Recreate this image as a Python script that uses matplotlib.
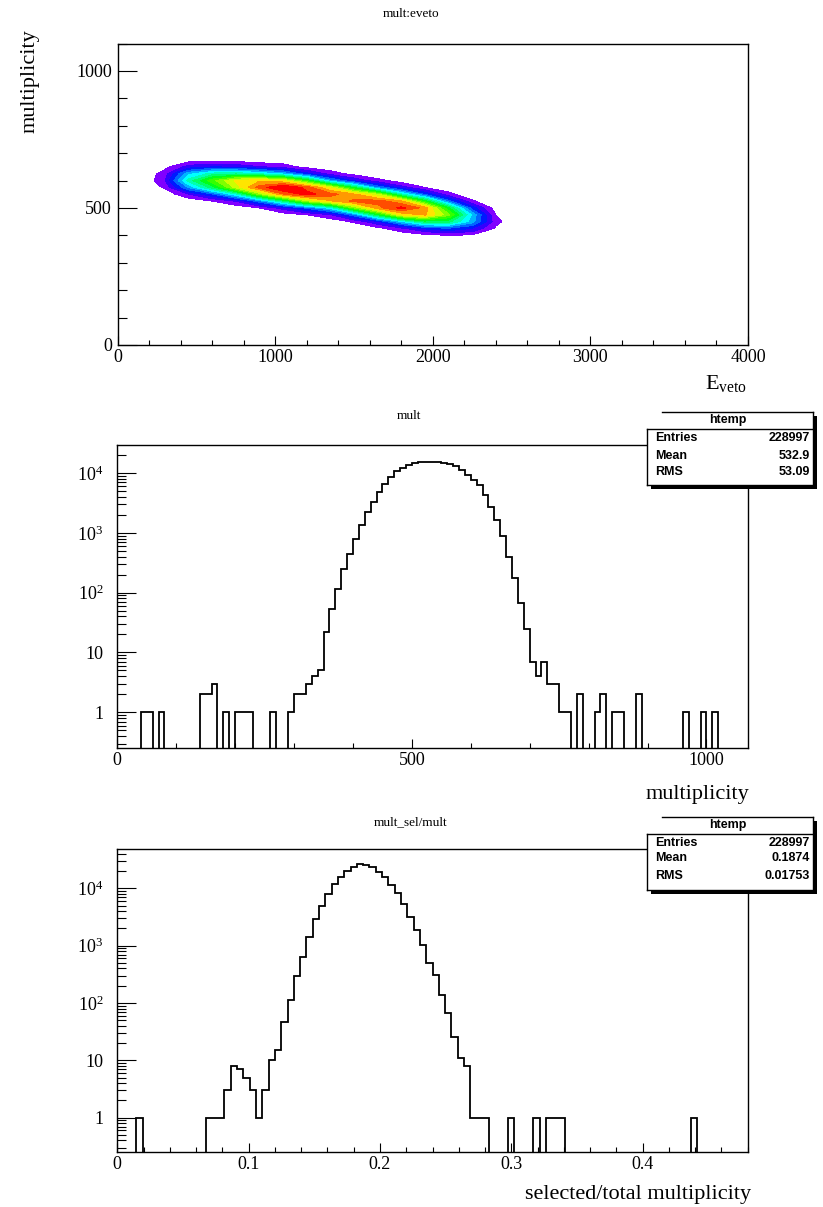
import numpy as np
import matplotlib
matplotlib.use("Agg")
import matplotlib.pyplot as plt
from matplotlib.colors import hsv_to_rgb
from matplotlib.ticker import FixedLocator, MultipleLocator, NullFormatter, FixedFormatter, LogLocator
from matplotlib.patches import Rectangle

plt.rcParams['font.family'] = ['Liberation Serif', 'DejaVu Serif']
plt.rcParams['mathtext.fontset'] = 'custom'
plt.rcParams['mathtext.rm'] = 'Liberation Serif'
plt.rcParams['mathtext.it'] = 'Liberation Serif:italic'

# ---------------- data: panel 1, 2D histogram mult vs E_veto ----------------
eveto_centers = [150, 300, 450, 600, 750, 900, 1050, 1200, 1350, 1500,
                 1650, 1800, 1950, 2100, 2250, 2400, 2550]
mult_centers = [350, 375, 400, 425, 450, 475, 500, 525, 550, 575,
                600, 625, 650, 675, 700, 725]
# one list per E_veto column, entries follow mult_centers
density_by_eveto = [
    [0, 0, 0, 0, 0, 0, 0, 0, 0, 0, 0, 0, 0, 0, 0, 0],
    [0, 0, 0, 0, 0, 0, 0, 0, 2, 7, 11, 9, 4, 1, 0, 0],
    [0, 0, 0, 0, 0, 0, 0, 2, 11, 29, 42, 32, 14, 3, 0, 0],
    [0, 0, 0, 0, 0, 0, 1, 6, 22, 48, 60, 42, 17, 4, 0, 0],
    [0, 0, 0, 0, 0, 0, 2, 12, 38, 70, 74, 44, 16, 3, 0, 0],
    [0, 0, 0, 0, 0, 1, 6, 26, 64, 87, 78, 39, 12, 2, 0, 0],
    [0, 0, 0, 0, 0, 3, 14, 45, 84, 97, 74, 32, 9, 2, 0, 0],
    [0, 0, 0, 0, 1, 6, 24, 66, 92, 88, 56, 19, 4, 1, 0, 0],
    [0, 0, 0, 0, 2, 11, 36, 78, 87, 72, 30, 9, 2, 0, 0, 0],
    [0, 0, 0, 1, 7, 26, 62, 86, 80, 50, 16, 4, 1, 0, 0, 0],
    [0, 0, 1, 4, 16, 50, 82, 87, 68, 27, 8, 1, 0, 0, 0, 0],
    [0, 0, 2, 10, 33, 74, 92, 80, 41, 14, 3, 0, 0, 0, 0, 0],
    [0, 1, 4, 18, 48, 80, 82, 54, 22, 6, 1, 0, 0, 0, 0, 0],
    [0, 1, 6, 22, 47, 64, 52, 25, 8, 2, 0, 0, 0, 0, 0, 0],
    [0, 1, 5, 17, 31, 33, 20, 7, 1, 0, 0, 0, 0, 0, 0, 0],
    [0, 0, 1, 5, 8, 6, 3, 0, 0, 0, 0, 0, 0, 0, 0, 0],
    [0, 0, 0, 0, 0, 0, 0, 0, 0, 0, 0, 0, 0, 0, 0, 0],
]

# ---------------- data: panel 2, multiplicity histogram (bins of 10, 0..1070) ----------------
mult_bin_width = 10
mult_counts = [
    0, 0, 0, 0, 1, 1, 0, 1, 0, 0,            # 0-90
    0, 0, 0, 0, 2, 2, 3, 0, 1, 0,            # 100-190
    1, 1, 1, 0, 0, 0, 1, 0, 0, 1,            # 200-290
    2, 2, 3, 4, 5, 22, 54, 114, 250, 446,    # 300-390
    795, 1350, 2220, 3270, 4810, 6550, 8450, 10640, 12140, 13620,   # 400-490
    14720, 15200, 15400, 15450, 15300, 14900, 14200, 13000, 11100, 9400,  # 500-590
    7600, 6300, 4300, 2750, 1650, 870, 400, 175, 67, 25,   # 600-690
    7, 4, 7, 3, 3, 1, 1, 0, 2, 0,            # 700-790
    0, 1, 2, 0, 1, 1, 0, 0, 2, 0,            # 800-890
    0, 0, 0, 0, 0, 0, 1, 0, 0, 1,            # 900-990
    0, 1, 0, 0, 0, 0, 0,                     # 1000-1060
]

# ---------------- data: panel 3, selected/total ratio histogram (100 bins, 0..0.48) ----------------
ratio_range = (0.0, 0.48)
ratio_counts = [
    0, 0, 0, 1, 0, 0, 0, 0, 0, 0,
    0, 0, 0, 0, 1, 1, 1, 3, 8, 7,
    5, 3, 1, 3, 10, 15, 47, 113, 299, 641,
    1430, 2880, 4910, 7950, 11740, 15930, 20260, 23800, 26200, 25100,
    23800, 19500, 15500, 11270, 8190, 5260, 3200, 1875, 1026, 492,
    308, 138, 66, 26, 11, 8, 1, 1, 1, 0,
    0, 0, 1, 0, 0, 0, 1, 0, 1, 1,
    1, 0, 0, 0, 0, 0, 0, 0, 0, 0,
    0, 0, 0, 0, 0, 0, 0, 0, 0, 0,
    0, 1, 0, 0, 0, 0, 0, 0, 0, 0,
]

stats_mult = [("Entries", "228997"), ("Mean", "532.9"), ("RMS", "53.09")]
stats_ratio = [("Entries", "228997"), ("Mean", "0.1874"), ("RMS", "0.01753")]
log_tick_values = [1, 10, 100, 1000, 10000]
log_tick_labels = ['1', '10', r'$10^{2}$', r'$10^{3}$', r'$10^{4}$']

# ---------------- figure ----------------
W, H = 823, 1207
fig = plt.figure(figsize=(W / 100, H / 100), dpi=100)


def px_axes(l, t, r, b, **kw):
    return fig.add_axes([l / W, 1 - b / H, (r - l) / W, (b - t) / H], **kw)


TICK_FS = 13
LABEL_FS = 16
TITLE_FS = 9.5


def style_axes(ax):
    for s in ax.spines.values():
        s.set_linewidth(1.0)
        s.set_color('black')
    ax.tick_params(which='both', direction='in', top=False, right=False,
                   width=0.8, colors='black', labelsize=TICK_FS)
    ax.tick_params(axis='y', which='major', length=13.5)
    ax.tick_params(axis='y', which='minor', length=6.7)
    ax.tick_params(axis='x', which='major', length=6.5, pad=3)
    ax.tick_params(axis='x', which='minor', length=3.4)


# ---- panel 1: contour ----
ax1 = px_axes(117.5, 43.5, 748, 345)
Z = np.array(density_by_eveto).T
levels = list(np.linspace(6, 90, 16)) + [1000]
hues = np.linspace(0.75, 0.0, 16)
colors = [hsv_to_rgb((h, 1.0, 1.0)) for h in hues]
ax1.contourf(eveto_centers, mult_centers, Z, levels=levels, colors=colors)
ax1.set_xlim(0, 4000)
ax1.set_ylim(0, 1100)
ax1.xaxis.set_major_locator(FixedLocator([0, 1000, 2000, 3000, 4000]))
ax1.xaxis.set_minor_locator(MultipleLocator(200))
ax1.yaxis.set_major_locator(FixedLocator([0, 500, 1000]))
ax1.yaxis.set_minor_locator(MultipleLocator(100))
style_axes(ax1)
ax1.tick_params(axis='y', which='major', pad=4)

fig.text(411 / W, 1 - 14 / H, 'mult:eveto', ha='center', va='center', fontsize=TITLE_FS)
fig.text(30 / W, 1 - 29 / H, 'multiplicity', rotation=90, ha='center', va='top', fontsize=LABEL_FS)
fig.text(747 / W, 1 - 383 / H, r'E$_{\mathregular{veto}}$', ha='right', va='center', fontsize=LABEL_FS)

# ---- panel 2: multiplicity ----
ax2 = px_axes(117.3, 444.7, 747.7, 748)
mult_edges = np.arange(len(mult_counts) + 1) * mult_bin_width
ax2.stairs(mult_counts, mult_edges, baseline=None, color='black', linewidth=1.3)
ax2.set_yscale('log', nonpositive='clip')
ax2.set_xlim(mult_edges[0], mult_edges[-1])
ax2.set_ylim(0.253, 29800)
ax2.xaxis.set_major_locator(FixedLocator([0, 500, 1000]))
ax2.xaxis.set_minor_locator(MultipleLocator(100))
ax2.yaxis.set_major_locator(FixedLocator(log_tick_values))
ax2.yaxis.set_major_formatter(FixedFormatter(log_tick_labels))
ax2.yaxis.set_minor_locator(LogLocator(base=10, subs=np.arange(2, 10)))
ax2.yaxis.set_minor_formatter(NullFormatter())
style_axes(ax2)
ax2.tick_params(axis='y', which='major', pad=10)

fig.text(409 / W, 1 - 416 / H, 'mult', ha='center', va='center', fontsize=TITLE_FS)
fig.text(749 / W, 1 - 795 / H, 'multiplicity', ha='right', va='center', fontsize=LABEL_FS)

# ---- panel 3: ratio ----
ax3 = px_axes(117.3, 849.3, 747.7, 1152)
ratio_edges = np.linspace(ratio_range[0], ratio_range[1], len(ratio_counts) + 1)
ax3.stairs(ratio_counts, ratio_edges, baseline=None, color='black', linewidth=1.3)
ax3.set_yscale('log', nonpositive='clip')
ax3.set_xlim(ratio_range)
ax3.set_ylim(0.252, 47900)
ax3.xaxis.set_major_locator(FixedLocator([0, 0.1, 0.2, 0.3, 0.4]))
ax3.xaxis.set_major_formatter(FixedFormatter(['0', '0.1', '0.2', '0.3', '0.4']))
ax3.xaxis.set_minor_locator(MultipleLocator(0.02))
ax3.yaxis.set_major_locator(FixedLocator(log_tick_values))
ax3.yaxis.set_major_formatter(FixedFormatter(log_tick_labels))
ax3.yaxis.set_minor_locator(LogLocator(base=10, subs=np.arange(2, 10)))
ax3.yaxis.set_minor_formatter(NullFormatter())
style_axes(ax3)
ax3.tick_params(axis='y', which='major', pad=10)

fig.text(411 / W, 1 - 822 / H, 'mult_sel/mult', ha='center', va='center', fontsize=TITLE_FS)
fig.text(751 / W, 1 - 1195 / H, 'selected/total multiplicity', ha='right', va='center', fontsize=LABEL_FS)

# ---- stats boxes (overlay in pixel coordinates) ----
ov = fig.add_axes([0, 0, 1, 1], zorder=10)
ov.set_xlim(0, W)
ov.set_ylim(H, 0)
ov.axis('off')


def stats_box(top, stats, sep_dy=17.3, rows_dy=(9.3, 26.7, 42.7), bottom_dy=73.3):
    l, r = 646.7, 813.3
    b = top + bottom_dy
    sep = top + sep_dy
    ov.add_patch(Rectangle((l + 4, top + 4), r - l, b - top, facecolor='black', edgecolor='none'))
    ov.add_patch(Rectangle((l, top), r - l, b - top, facecolor='white', edgecolor='none'))
    lw = 1.0
    ov.plot([l + 15, r], [top, top], color='black', lw=lw)
    ov.plot([r, r], [top, b], color='black', lw=lw)
    ov.plot([l, r], [b, b], color='black', lw=lw)
    ov.plot([l, l], [sep, b], color='black', lw=lw)
    ov.plot([l, r], [sep, sep], color='black', lw=lw)
    fam = ['Liberation Sans', 'DejaVu Sans']
    fs = 9
    ov.text((l + r) / 2 - 2, top + 8.5, 'htemp', ha='center', va='center',
            fontsize=fs, fontweight='bold', family=fam)
    for (name, val), dy in zip(stats, rows_dy):
        ov.text(l + 8, sep + dy, name, ha='left', va='center', fontsize=fs,
                fontweight='bold', family=fam)
        ov.text(r - 3.5, sep + dy, val, ha='right', va='center', fontsize=fs,
                fontweight='bold', family=fam)


stats_box(411.7, stats_mult)
stats_box(816.7, stats_ratio, rows_dy=(9.3, 24.3, 41.7))

fig.savefig('out.png', dpi=100)
